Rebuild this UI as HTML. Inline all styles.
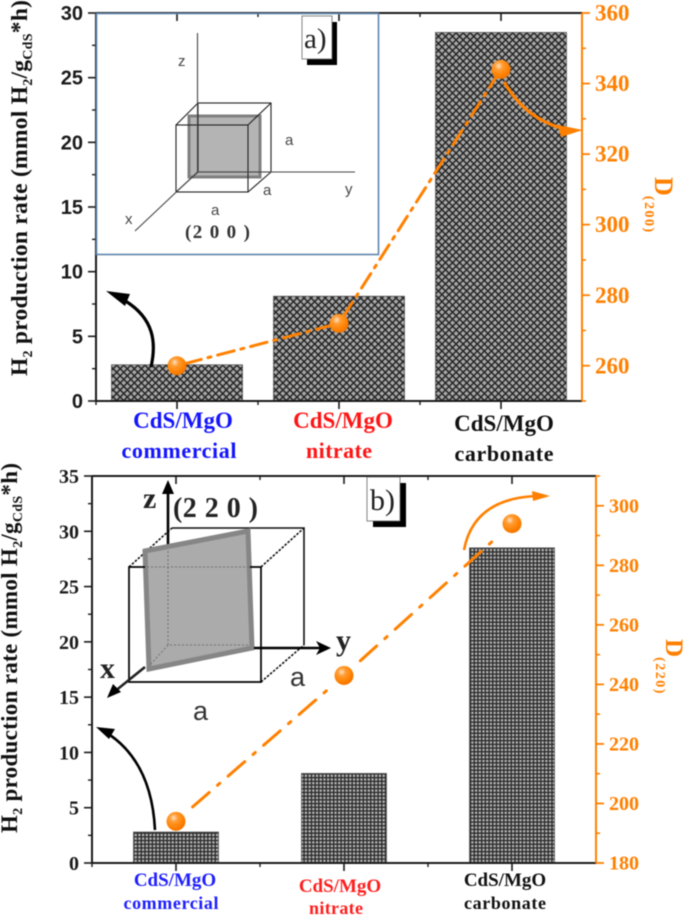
<!DOCTYPE html>
<html lang="en">
<head>
<meta charset="utf-8">
<title>H2 production rate and crystallite size charts</title>
<style>
html,body{margin:0;padding:0;background:#fff;width:685px;height:916px;overflow:hidden}
svg{display:block;filter:blur(0.45px)}
text{font-family:"Liberation Serif",serif;font-weight:bold}
.sans{font-family:"Liberation Sans",sans-serif;font-weight:normal}
</style>
</head>
<body>
<svg id="figure" xmlns="http://www.w3.org/2000/svg" width="685" height="916" viewBox="0 0 685 916">
<defs>
<pattern id="hatchA" width="5" height="5" patternUnits="userSpaceOnUse" patternTransform="rotate(45)">
<rect width="5" height="5" fill="#a8a8a8"/>
<path d="M0 0H5M0 0V5" stroke="#262626" stroke-width="3"/>
</pattern>
<pattern id="hatchB" width="3.7" height="3.7" patternUnits="userSpaceOnUse">
<rect width="3.7" height="3.7" fill="#b4b4b4"/>
<path d="M0 0H3.7M0 0V3.7" stroke="#262626" stroke-width="2.6"/>
</pattern>
<radialGradient id="ball" cx="0.38" cy="0.32" r="0.7">
<stop offset="0" stop-color="#ffe2c4"/>
<stop offset="0.3" stop-color="#ff9c33"/>
<stop offset="0.75" stop-color="#ff8000"/>
<stop offset="1" stop-color="#f07400"/>
</radialGradient>
</defs>

<g id="chartA"></g>
<g id="chartB"></g>

<!-- panel a inset -->
<g>
<rect x="96.5" y="13.5" width="282" height="241" fill="none" stroke="#5f86ad" stroke-width="1.6"/>
<rect x="189" y="116" width="71" height="61" fill="#b4b4b4" stroke="#808080" stroke-width="3"/>
<g fill="none" stroke="#222" stroke-width="1.1">
<rect x="176" y="125" width="72" height="67"/>
<rect x="198" y="103" width="73" height="69"/>
<path d="M176 125L198 103M248 125L271 103M176 192L198 172M248 192L271 172"/>
</g>
<g fill="none" stroke="#444" stroke-width="1.1">
<path d="M197.5 33V172H355M197.5 172L135 231"/>
</g>
<text class="sans" x="178" y="66" font-size="15" fill="#444">z</text>
<text class="sans" x="345" y="194" font-size="15" fill="#444">y</text>
<text class="sans" x="125" y="224" font-size="15" fill="#444">x</text>
<text class="sans" x="285" y="145" font-size="15" fill="#444">a</text>
<text class="sans" x="263" y="195" font-size="15" fill="#444">a</text>
<text class="sans" x="211" y="215" font-size="15" fill="#444">a</text>
<text x="185" y="238" font-size="19" fill="#333" textLength="65" xml:space="preserve">(2 0 0 )</text>
</g>

<g>
<path d="M332 22H337V65H307V59H332Z" fill="#000"/>
<rect x="302" y="16" width="30" height="43" fill="#fff" stroke="#666" stroke-width="0.8"/>
<text x="304" y="48" font-size="29" fill="#222" style="font-weight:normal">a)</text>
</g>

<!-- panel b inset -->
<g>
<g fill="none" stroke="#111" stroke-width="1.6">
<path d="M172 528H304V645"/>
<path d="M129 567L172 528M261 567L304 528M261 682L304 645" stroke-dasharray="2.5 1.5"/>
</g>
<path d="M168 545V486" stroke="#000" stroke-width="2.6" fill="none"/>
<path d="M168 480L162 494H174Z" fill="#000"/>
<polygon points="145,551 248,531 252,648 149,669" fill="#ababab" stroke="#868686" stroke-width="5"/>
<g fill="none" stroke="#000" stroke-width="1.7">
<path d="M145 567H129V682H261V567H250"/>
</g>
<path d="M147 567H250M168 551V645L250 645M168 645L150 665" fill="none" stroke="#707070" stroke-width="1" stroke-dasharray="2 2"/>
<path d="M254 648H322" stroke="#000" stroke-width="2.6" fill="none"/>
<path d="M331 648L316 641L320 648L316 655Z" fill="#000"/>
<path d="M145 667L114 692" stroke="#222" stroke-width="2.6" fill="none"/>
<path d="M107 698L121 692L113 684Z" fill="#000"/>
<text x="143" y="508" font-size="30" fill="#222">z</text>
<text x="336" y="650" font-size="30" fill="#222">y</text>
<text x="100" y="678" font-size="30" fill="#222">x</text>
<text class="sans" x="290" y="686" font-size="27" fill="#333">a</text>
<text class="sans" x="193" y="720" font-size="27" fill="#333">a</text>
<text x="173" y="517" font-size="28" fill="#222" textLength="85" xml:space="preserve">(2 2 0 )</text>
</g>

<g>
<path d="M400 483H406V527H373V521H400Z" fill="#000"/>
<rect x="367" y="477" width="33" height="44" fill="#fff" stroke="#666" stroke-width="0.8"/>
<text x="370" y="510" font-size="30" fill="#222" style="font-weight:normal">b)</text>
</g>

<!-- annotation arrows -->
<g fill="none">
<path d="M151 367C156 345 156 318 122 299" stroke="#000" stroke-width="3.2"/>
<path d="M106 291L130 294L125 306Z" fill="#000"/>
<path d="M504 82C516 102 532 120 564 129" stroke="#ff8000" stroke-width="3.2"/>
<path d="M583 130L558 125L561 137Z" fill="#ff8000"/>
<path d="M155 830C153 790 140 756 110 735" stroke="#000" stroke-width="2.6"/>
<path d="M96 727L115 729L109 739Z" fill="#000"/>
<path d="M464 550C470 518 492 498 536 496" stroke="#ff8000" stroke-width="2.6"/>
<path d="M550 496L532 491L533 501Z" fill="#ff8000"/>
</g>

<!-- axis titles -->
<text transform="translate(27,376) rotate(-90)" font-size="23.5" fill="#111" textLength="376">H<tspan font-size="14" dy="5">2</tspan><tspan dy="-5"> production rate (mmol H</tspan><tspan font-size="14" dy="5">2</tspan><tspan dy="-5">/g</tspan><tspan font-size="14" dy="5">CdS</tspan><tspan dy="-5">*h)</tspan></text>
<text transform="translate(17,833) rotate(-90)" font-size="23" fill="#111" textLength="370">H<tspan font-size="14" dy="5">2</tspan><tspan dy="-5"> production rate (mmol H</tspan><tspan font-size="14" dy="5">2</tspan><tspan dy="-5">/g</tspan><tspan font-size="14" dy="5">CdS</tspan><tspan dy="-5">*h)</tspan></text>
<text transform="translate(655,177) rotate(90)" font-size="26" fill="#ff8000">D<tspan font-size="14" dy="10" letter-spacing="1.5">(200)</tspan></text>
<text transform="translate(666,639) rotate(90)" font-size="25" fill="#ff8000">D<tspan font-size="14" dy="10" letter-spacing="1.5">(220)</tspan></text>

<!-- category labels -->
<g text-anchor="middle">
<text x="183" y="428" font-size="23" fill="#1414ff">CdS/MgO</text>
<text x="179" y="458" font-size="22" fill="#1414ff" textLength="115">commercial</text>
<text x="343" y="428" font-size="23" fill="#ff1414">CdS/MgO</text>
<text x="339" y="458" font-size="22" fill="#ff1414" textLength="66">nitrate</text>
<text x="504" y="431" font-size="23" fill="#111">CdS/MgO</text>
<text x="504" y="461" font-size="22" fill="#111" textLength="99">carbonate</text>
</g>
<g text-anchor="middle">
<text x="175" y="886" font-size="19" fill="#1e1eff">CdS/MgO</text>
<text x="171" y="909" font-size="18" fill="#1e1eff" textLength="95">commercial</text>
<text x="340" y="892" font-size="19" fill="#ff1e1e">CdS/MgO</text>
<text x="336" y="914" font-size="18" fill="#ff1e1e" textLength="54">nitrate</text>
<text x="505" y="886" font-size="19" fill="#111">CdS/MgO</text>
<text x="505" y="909" font-size="18" fill="#111" textLength="82">carbonate</text>
</g>
</svg>

<script>
const categories = ['commercial', 'nitrate', 'carbonate'];
const ratesA = [2.8, 8.1, 28.5];
const ratesB = [2.8, 8.1, 28.5];
const crystalSizeA = [260, 272, 344];
const crystalSizeB = [194, 243, 294];
const leftTicksA = [0, 5, 10, 15, 20, 25, 30];
const leftTicksB = [0, 5, 10, 15, 20, 25, 30, 35];
const rightTicksA = [260, 280, 300, 320, 340, 360];
const rightMinorA = [250, 270, 290, 310, 330, 350];
const rightTicksB = [180, 200, 220, 240, 260, 280, 300];
const rightMinorB = [190, 210, 230, 250, 270, 290, 310];

const NS = 'http://www.w3.org/2000/svg';
function mk(parent, tag, attrs, txt) {
  const el = document.createElementNS(NS, tag);
  for (const k in attrs) el.setAttribute(k, attrs[k]);
  if (txt !== undefined) el.textContent = txt;
  parent.appendChild(el);
  return el;
}

function drawChart(cfg) {
  const root = document.getElementById(cfg.id);
  const x0 = cfg.x0, x1 = cfg.x1, yT = cfg.top, yB = cfg.bottom;
  const band = (x1 - x0) / categories.length;
  const xC = i => x0 + band * (i + 0.5);
  const yL = v => yB - (v - cfg.leftMin) / (cfg.leftMax - cfg.leftMin) * (yB - yT);
  const yR = v => yB - (v - cfg.rightMin) / (cfg.rightMax - cfg.rightMin) * (yB - yT);

  // bars
  cfg.rates.forEach((v, i) => {
    const bar = mk(root, 'rect', {
      x: xC(i) - cfg.barW / 2, y: yL(v), width: cfg.barW, height: yB - yL(v),
      fill: 'url(#' + cfg.pattern + ')', stroke: '#555', 'stroke-width': 0.8
    });
    
    
  });

  const axes = mk(root, 'g', { fill: 'none' });
  
  

  const frame = mk(axes, 'path', {
    d: 'M' + x0 + ' ' + yT + 'H' + x1 + 'M' + x0 + ' ' + yT + 'V' + yB + 'H' + x1,
    stroke: '#1a1a1a', 'stroke-width': 2
  });
  
  

  const rightLine = mk(axes, 'path', {
    d: 'M' + x1 + ' ' + yT + 'V' + yB, stroke: '#ff8000', 'stroke-width': 2
  });
  
  

  // x ticks
  categories.forEach((c, i) => {
    const major = mk(axes, 'path', {
      d: 'M' + xC(i) + ' ' + yB + 'v8M' + xC(i) + ' ' + yT + 'v8',
      stroke: '#1a1a1a', 'stroke-width': 1.6
    });
    
    
    const mx = x0 + band * i;
    const minor = mk(axes, 'path', {
      d: 'M' + mx + ' ' + yB + 'v4M' + mx + ' ' + yT + 'v4',
      stroke: '#1a1a1a', 'stroke-width': 1.4
    });
    
    
  });

  // left ticks
  cfg.leftTicks.forEach((v, i) => {
    const t = mk(axes, 'path', {
      d: 'M' + x0 + ' ' + yL(v) + 'h-8', stroke: '#1a1a1a', 'stroke-width': 1.6
    });
    
    
    const label = mk(root, 'text', {
      x: cfg.leftLabelX, y: yL(v) + 7, 'text-anchor': 'end',
      'font-size': cfg.leftFont, fill: '#1a1a1a', class: cfg.leftClass
    }, v);
    if (cfg.leftClass) label.style.fontWeight = 'bold';
    
    
    if (i < cfg.leftTicks.length - 1) {
      const mv = (v + cfg.leftTicks[i + 1]) / 2;
      const m = mk(axes, 'path', {
        d: 'M' + x0 + ' ' + yL(mv) + 'h-4', stroke: '#1a1a1a', 'stroke-width': 1.4
      });
      
      
    }
  });

  // right ticks
  cfg.rightTicks.forEach(v => {
    const t = mk(axes, 'path', {
      d: 'M' + x1 + ' ' + yR(v) + 'h8', stroke: '#ff8000', 'stroke-width': 1.8
    });
    
    
    const label = mk(root, 'text', {
      x: cfg.rightLabelX, y: yR(v) + cfg.rightFont * 0.33,
      'font-size': cfg.rightFont, fill: '#ff8000'
    }, v);
    
    
  });
  cfg.rightMinor.forEach(v => {
    const m = mk(axes, 'path', {
      d: 'M' + x1 + ' ' + yR(v) + 'h4', stroke: '#ff8000', 'stroke-width': 1.6
    });
    
    
  });

  // dash-dot line segments, trimmed around the markers
  cfg.sizes.forEach((v, i) => {
    if (i === cfg.sizes.length - 1) return;
    const ax = xC(i), ay = yR(v), bx = xC(i + 1), by = yR(cfg.sizes[i + 1]);
    const len = Math.hypot(bx - ax, by - ay);
    const ux = (bx - ax) / len, uy = (by - ay) / len;
    const seg = mk(root, 'line', {
      x1: ax + ux * cfg.trim, y1: ay + uy * cfg.trim,
      x2: bx - ux * cfg.trim, y2: by - uy * cfg.trim,
      stroke: '#ff8000', 'stroke-width': 3,
      'stroke-dasharray': cfg.dash, 'stroke-linecap': 'round'
    });
    
    
  });

  // markers
  cfg.sizes.forEach((v, i) => {
    const ball = mk(root, 'circle', {
      cx: xC(i), cy: yR(v), r: 9.5, fill: 'url(#ball)'
    });
    
    
  });
}

drawChart({
  id: 'chartA', x0: 96, x1: 582, top: 13, bottom: 401, barW: 131, pattern: 'hatchA',
  rates: ratesA, sizes: crystalSizeA,
  leftMin: 0, leftMax: 30, rightMin: 250, rightMax: 360,
  leftTicks: leftTicksA, rightTicks: rightTicksA, rightMinor: rightMinorA,
  leftLabelX: 83, leftFont: 20, leftClass: 'sans',
  rightLabelX: 595, rightFont: 23, trim: 8, dash: '17 7 3 7'
});
drawChart({
  id: 'chartB', x0: 92, x1: 596, top: 476, bottom: 863, barW: 85, pattern: 'hatchB',
  rates: ratesB, sizes: crystalSizeB,
  leftMin: 0, leftMax: 35, rightMin: 180, rightMax: 310,
  leftTicks: leftTicksB, rightTicks: rightTicksB, rightMinor: rightMinorB,
  leftLabelX: 79, leftFont: 20, leftClass: '',
  rightLabelX: 609, rightFont: 20, trim: 22, dash: '22 11 3 11'
});
</script>
</body>
</html>
